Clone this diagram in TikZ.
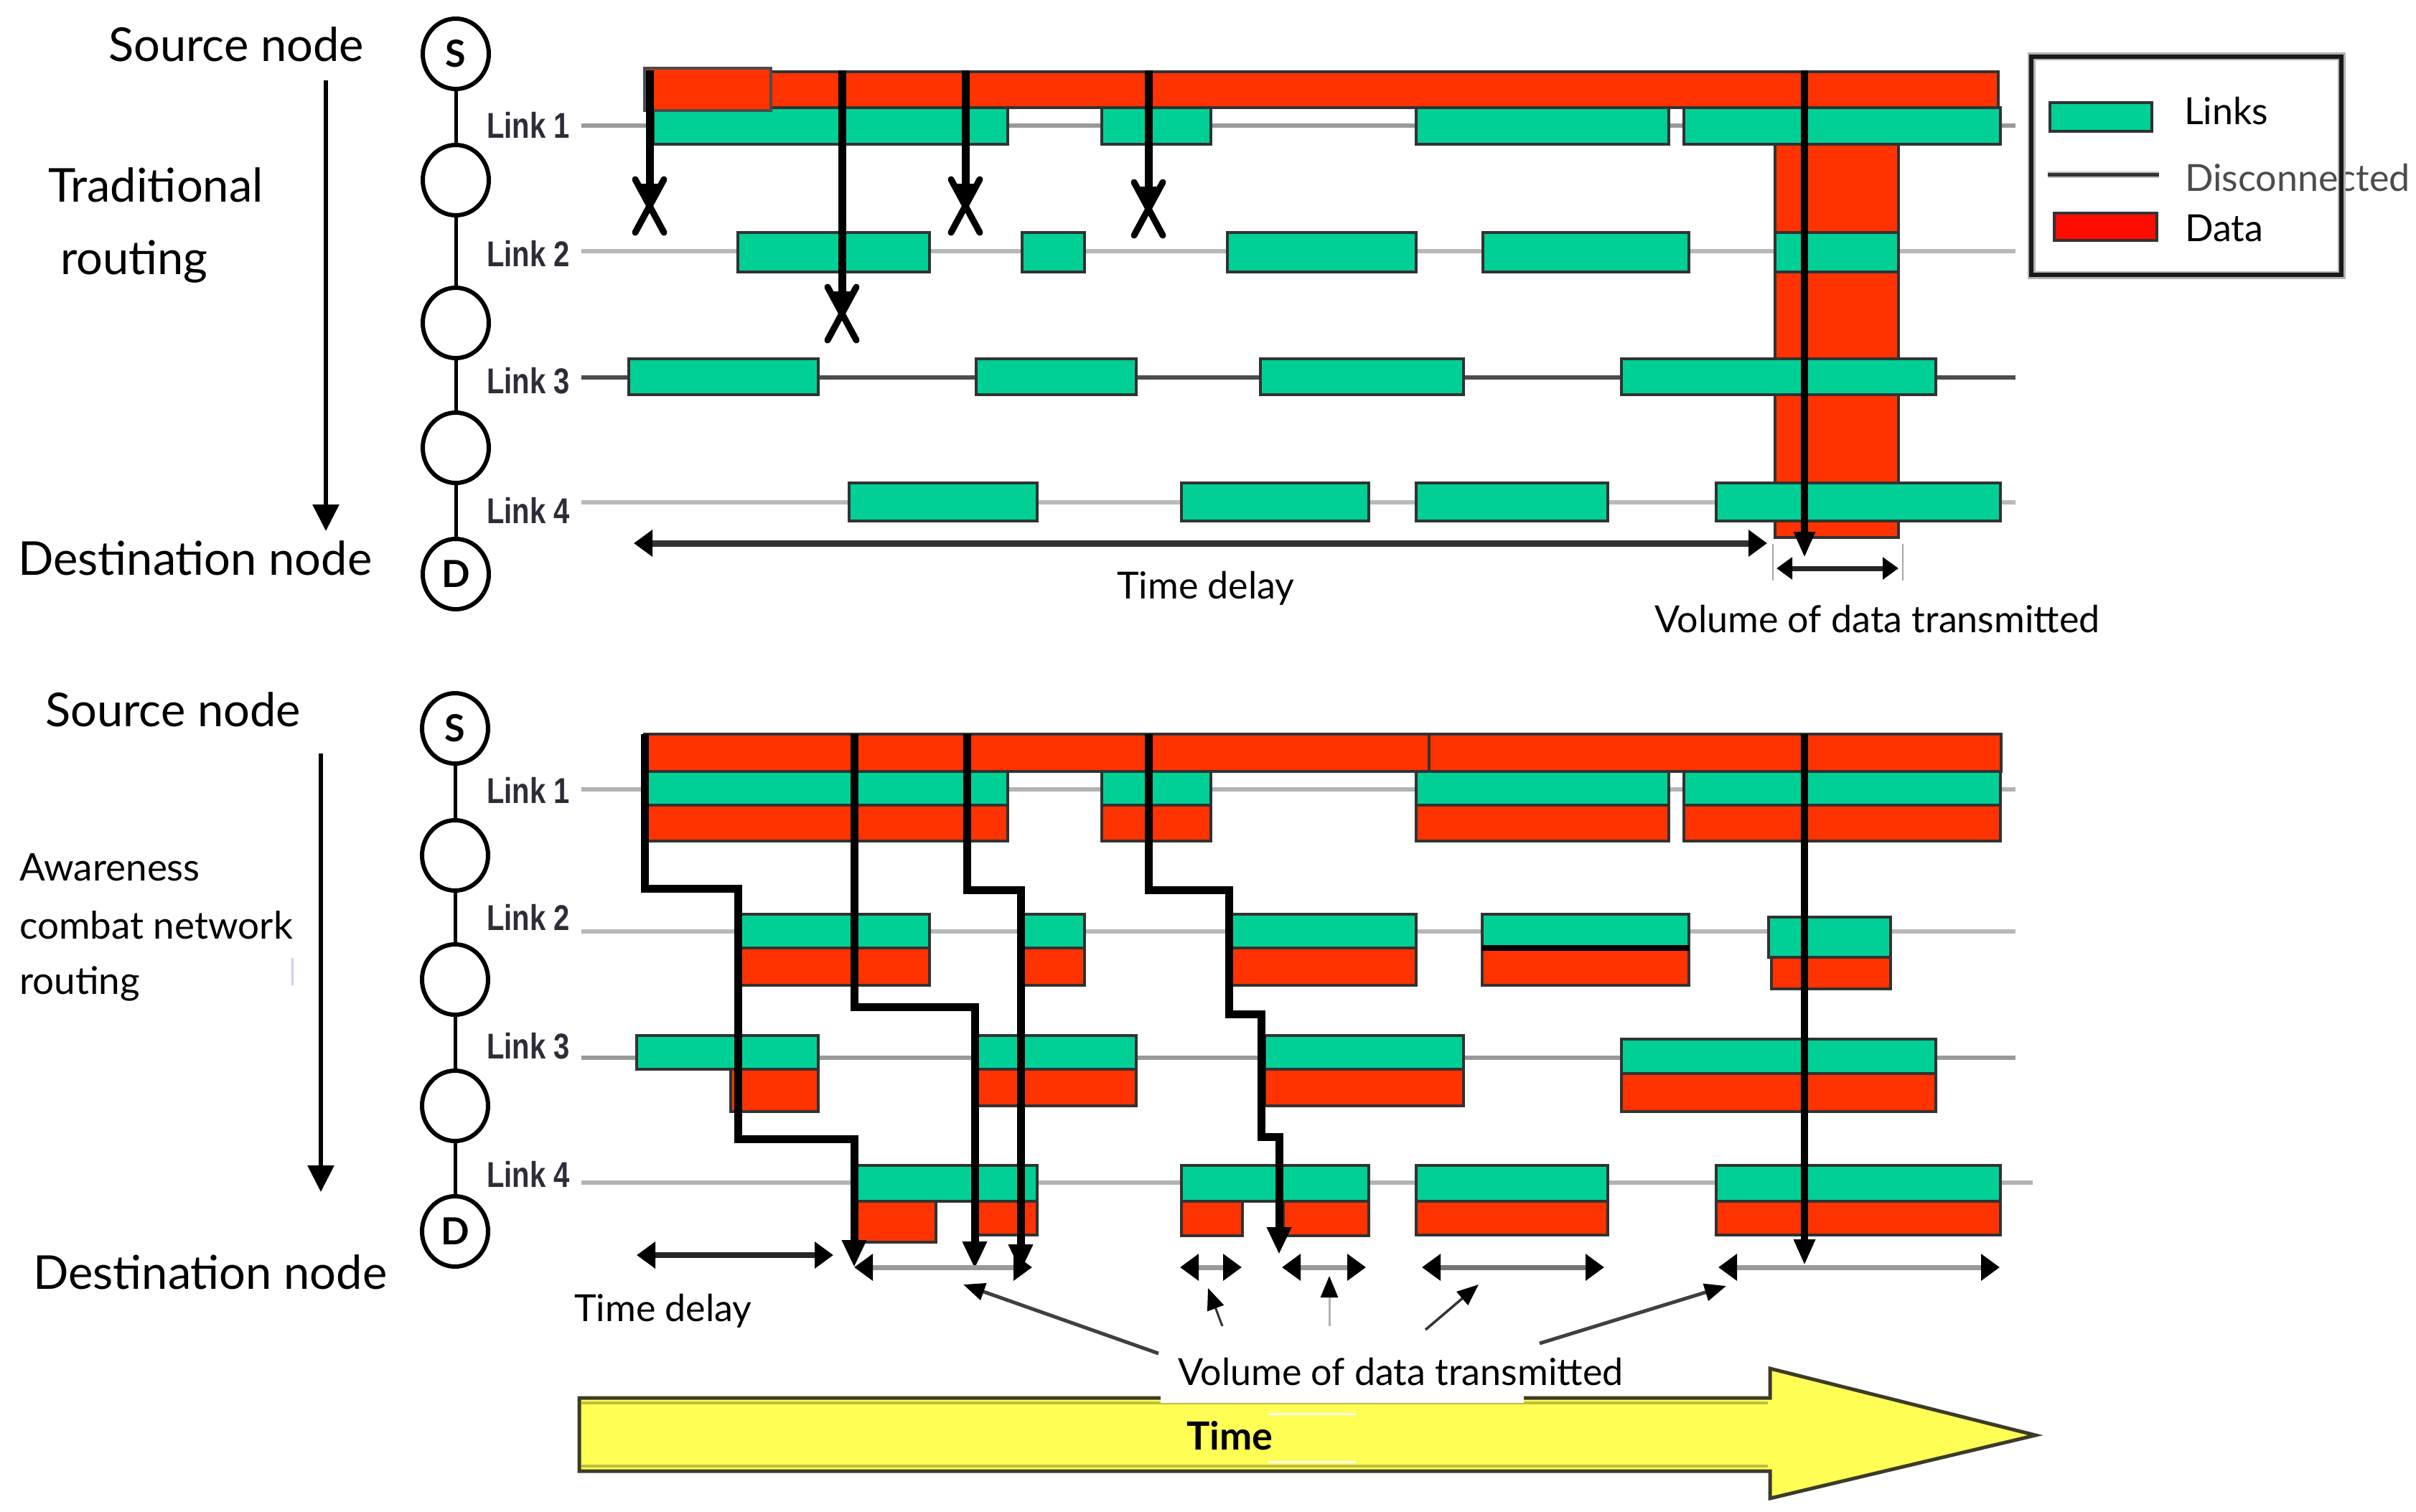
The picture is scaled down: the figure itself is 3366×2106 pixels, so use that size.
\documentclass[tikz,border=0pt]{standalone}
\usepackage{fontspec}
\setmainfont{Lato}
\newfontfamily\linkfont[FakeStretch=0.8]{Liberation Sans}
\usetikzlibrary{arrows.meta,shapes.geometric}
\definecolor{lgreen}{RGB}{0,208,150}
\definecolor{dgreen}{RGB}{0,130,95}
\definecolor{dred}{RGB}{255,51,0}
\definecolor{legred}{RGB}{255,12,0}
\definecolor{bordc}{RGB}{50,50,50}
\definecolor{tyellow}{RGB}{255,255,85}
\definecolor{linkc}{RGB}{45,45,58}
\definecolor{yborder}{RGB}{60,60,40}
\definecolor{yinner}{RGB}{190,190,60}
\begin{document}
\begin{tikzpicture}[x=1pt,y=-1pt,
  big/.style={font=\fontsize{65}{78}\selectfont, anchor=base west, inner sep=0pt},
  mid/.style={font=\fontsize{53}{62}\selectfont, anchor=base west, inner sep=0pt},
  small/.style={font=\fontsize{52}{62}\selectfont, anchor=base west, inner sep=0pt},
  linklbl/.style={font=\linkfont\bfseries\fontsize{50}{60}\selectfont, text=linkc, anchor=base west, inner sep=0pt},
  rnode/.style={ellipse, draw, line width=6pt, minimum width=92pt, minimum height=98pt, inner sep=0pt, font=\bfseries\fontsize{52}{60}\selectfont},
  chain/.style={line width=5pt},
  gbar/.style={fill=lgreen, draw=bordc, line width=4pt},
  rbar/.style={fill=dred, draw=bordc, line width=4pt},
  lline/.style={line width=6pt},
  route/.style={line width=11pt, line join=miter},
  tipbig/.style={-{Triangle[length=38pt,width=32pt]}},
  xm/.style={line width=9pt, line cap=round},
  dbl/.style={line width=8pt, draw=black!85, {Triangle[length=26pt,width=36pt,color=black]}-{Triangle[length=26pt,width=36pt,color=black]}},
  gdbl/.style={line width=7pt, draw=black!40, {Triangle[length=26pt,width=36pt,color=black]}-{Triangle[length=26pt,width=36pt,color=black]}},
  ptr/.style={-{Triangle[length=30pt,width=24pt,color=black]}},
  downarr/.style={line width=6pt, -{Triangle[length=37pt,width=36pt]}}
]
\useasboundingbox (0,0) rectangle (3366,2106);
\fill[white] (0,0) rectangle (3366,2106);

% ================= TOP PANEL =================
\node[big] (src1) at (151,86) {Source node};
\node[big] (trad1) at (67,281) {Traditional};
\node[big] (trad2) at (84,382) {routing};
\node[big] (dst1) at (25,801) {Destination node};
\coordinate (a1s) at (454,112); \coordinate (a1e) at (454,740);
\draw[downarr] (a1s) -- (a1e);

\node[rnode] (s1) at (635,75) {S};
\node[rnode] (n11) at (635,251) {};
\node[rnode] (n12) at (635,450) {};
\node[rnode] (n13) at (635,624) {};
\node[rnode] (d1) at (635,800) {D};
\draw[chain] (s1) -- (n11);
\draw[chain] (n11) -- (n12);
\draw[chain] (n12) -- (n13);
\draw[chain] (n13) -- (d1);

\node[linklbl] (l11) at (678,192) {Link 1};
\node[linklbl] (l12) at (678,371) {Link 2};
\node[linklbl] (l13) at (678,548) {Link 3};
\node[linklbl] (l14) at (678,729) {Link 4};

\draw[lline, draw=black!40] (810,175) -- (2808,175);
\draw[lline, draw=black!28] (810,350) -- (2808,350);
\draw[lline, draw=black!70] (810,526) -- (2808,526);
\draw[lline, draw=black!27] (810,700) -- (2808,700);

\draw[rbar] (2473,201) rectangle (2645,749);

\draw[gbar] (910,150) rectangle (1404,201);
\draw[gbar] (1535,150) rectangle (1687,201);
\draw[gbar] (1973,150) rectangle (2325,201);
\draw[gbar] (2346,150) rectangle (2787,201);

\draw[gbar] (1028,324) rectangle (1295,379);
\draw[gbar] (1424,324) rectangle (1511,379);
\draw[gbar] (1710,324) rectangle (1973,379);
\draw[gbar] (2066,324) rectangle (2353,379);
\draw[gbar] (2473,324) rectangle (2645,379);

\draw[gbar] (876,500) rectangle (1140,550);
\draw[gbar] (1360,500) rectangle (1583,550);
\draw[gbar] (1756,500) rectangle (2039,550);
\draw[gbar] (2259,500) rectangle (2697,550);

\draw[gbar] (1183,673) rectangle (1445,726);
\draw[gbar] (1646,673) rectangle (1907,726);
\draw[gbar] (1973,673) rectangle (2240,726);
\draw[gbar] (2391,673) rectangle (2787,726);

\draw[rbar] (898,100) rectangle (2784,150);
\draw[rbar, draw=black!70] (898,95) rectangle (1074,154);

% failed routes
\coordinate (t1s) at (905,98);  \coordinate (x1) at (905,286);
\coordinate (t2s) at (1173,98); \coordinate (x2) at (1173,436);
\coordinate (t3s) at (1345,98); \coordinate (x3) at (1345,286);
\coordinate (t4s) at (1600,98); \coordinate (x4) at (1600,290);
\foreach \s/\x in {t1s/x1,t2s/x2,t3s/x3,t4s/x4}{
  \draw[route, -{Triangle[length=30pt,width=30pt]}] (\s) -- (\x);
  \draw[xm] ([shift={(-20,-36)}]\x) -- ([shift={(20,38)}]\x);
  \draw[xm] ([shift={(20,-36)}]\x) -- ([shift={(-20,38)}]\x);
}
\coordinate (t5s) at (2514,98); \coordinate (t5e) at (2514,777);
\draw[route, line width=10pt, -{Triangle[length=36pt,width=28pt]}] (t5s) -- (t5e);

% time delay / volume (top)
\coordinate (td1a) at (883,757); \coordinate (td1b) at (2462,757);
\draw[dbl, line width=9pt, draw=black!80] (td1a) -- (td1b);
\node[small] (tdl1) at (1556,834) {Time delay};
\coordinate (tk1a) at (2470,758); \coordinate (tk1b) at (2470,809);
\coordinate (tk2a) at (2651,758); \coordinate (tk2b) at (2651,809);
\draw[line width=2.5pt, black!35] (tk1a) -- (tk1b);
\draw[line width=2.5pt, black!35] (tk2a) -- (tk2b);
\coordinate (vo1a) at (2475,792); \coordinate (vo1b) at (2645,792);
\draw[dbl, line width=7pt, {Triangle[length=22pt,width=30pt,color=black]}-{Triangle[length=22pt,width=30pt,color=black]}] (vo1a) -- (vo1b);
\node[small] (vol1) at (2305,881) {Volume of data transmitted};

% legend
\draw[gbar] (2856,143) rectangle (2998,183);
\node[small] (lg1) at (3043,173) {Links};
\coordinate (lgla) at (2853,243); \coordinate (lglb) at (3008,243);
\draw[line width=9pt, black!25] (lgla) -- (lglb);
\draw[line width=5pt, black!80] (lgla) -- (lglb);
\node[small, text=black!70] (lg2) at (3044,266) {Disconnected};
\draw[fill=legred, draw=bordc, line width=4pt] (2862,297) rectangle (3005,335);
\node[small] (lg3) at (3044,336) {Data};
\draw[line width=11pt, black!30] (2830,79) rectangle (3262,383);
\draw[line width=6pt, black!90] (2830,79) rectangle (3262,383);

% ================= BOTTOM PANEL =================
\node[big] (src2) at (63,1012) {Source node};
\node[mid] (aw1) at (27,1227) {Awareness};
\node[mid] (aw2) at (27,1308) {combat network};
\node[mid] (aw3) at (27,1385) {routing};
\node[big] (dst2) at (46,1796) {Destination node};
\coordinate (a2s) at (447,1050); \coordinate (a2e) at (447,1661);
\draw[downarr] (a2s) -- (a2e);
\coordinate (blA) at (407,1335); \coordinate (blB) at (407,1373);
\draw[line width=3pt, cyan!25!blue!20] (blA) -- (blB);

\node[rnode] (s2) at (634,1015) {S};
\node[rnode] (n21) at (634,1192) {};
\node[rnode] (n22) at (634,1365) {};
\node[rnode] (n23) at (634,1541) {};
\node[rnode] (d2) at (634,1716) {D};
\draw[chain] (s2) -- (n21);
\draw[chain] (n21) -- (n22);
\draw[chain] (n22) -- (n23);
\draw[chain] (n23) -- (d2);

\node[linklbl] (l21) at (678,1119) {Link 1};
\node[linklbl] (l22) at (678,1296) {Link 2};
\node[linklbl] (l23) at (678,1475) {Link 3};
\node[linklbl] (l24) at (678,1654) {Link 4};

\draw[lline, draw=black!30] (810,1100) -- (2808,1100);
\draw[lline, draw=black!28] (810,1298) -- (2808,1298);
\draw[lline, draw=black!40] (810,1474) -- (2808,1474);
\draw[lline, draw=black!30] (810,1648) -- (2832,1648);

% link 1
\draw[rbar] (898,1023) rectangle (1991,1075);
\draw[rbar] (1991,1023) rectangle (2788,1075);
\foreach \a/\b in {899/1404,1535/1687,1973/2325,2346/2787}{
  \draw[gbar] (\a,1075) rectangle (\b,1122);
  \draw[rbar] (\a,1122) rectangle (\b,1172);
}
% link 2
\foreach \a/\b in {1032/1295,1426/1511,1716/1973,2065/2353}{
  \draw[gbar] (\a,1274) rectangle (\b,1321);
  \draw[rbar] (\a,1321) rectangle (\b,1373);
}
\draw[line width=8pt] (2065,1321) -- (2353,1321);
\draw[gbar] (2464,1278) rectangle (2634,1334);
\draw[rbar] (2468,1334) rectangle (2634,1378);
% link 3
\draw[gbar] (887,1443) rectangle (1140,1490);
\draw[rbar] (1018,1490) rectangle (1140,1549);
\foreach \a/\b in {1361/1583,1762/2039}{
  \draw[gbar] (\a,1443) rectangle (\b,1490);
  \draw[rbar] (\a,1490) rectangle (\b,1541);
}
\draw[gbar] (2259,1448) rectangle (2697,1496);
\draw[rbar] (2259,1496) rectangle (2697,1549);
% link 4
\draw[gbar] (1192,1624) rectangle (1445,1674);
\draw[rbar] (1192,1674) rectangle (1304,1731);
\draw[rbar] (1360,1674) rectangle (1445,1721);
\draw[gbar] (1646,1624) rectangle (1907,1674);
\draw[rbar] (1646,1674) rectangle (1731,1722);
\draw[rbar] (1788,1674) rectangle (1907,1722);
\foreach \a/\b in {1973/2240,2391/2787}{
  \draw[gbar] (\a,1624) rectangle (\b,1674);
  \draw[rbar] (\a,1674) rectangle (\b,1721);
}

% routes
\coordinate (pa0) at (898,1023);  \coordinate (pa1) at (1190,1766);
\coordinate (pb0) at (1190,1023); \coordinate (pb1) at (1358,1768);
\coordinate (pc0) at (1347,1023); \coordinate (pc1) at (1422,1772);
\coordinate (pd0) at (1600,1023); \coordinate (pd1) at (1782,1748);
\coordinate (pe0) at (2514,1023); \coordinate (pe1) at (2514,1763);
\draw[route, tipbig] (pa0) -- (898,1238) -- (1028,1238) -- (1028,1587) -- (1190,1587) -- (pa1);
\draw[route, tipbig] (pb0) -- (1190,1403) -- (1358,1403) -- (pb1);
\draw[route, tipbig] (pc0) -- (1347,1240) -- (1422,1240) -- (pc1);
\draw[route, tipbig] (pd0) -- (1600,1240) -- (1712,1240) -- (1712,1413) -- (1757,1413) -- (1757,1584) -- (1782,1584) -- (pd1);
\draw[route, line width=10pt, -{Triangle[length=36pt,width=28pt]}] (pe0) -- (pe1);

% measures
\coordinate (td2a) at (887,1749); \coordinate (td2b) at (1161,1749);
\draw[dbl] (td2a) -- (td2b);
\node[small] (tdl2) at (800,1841) {Time delay};
\coordinate (g1a) at (1190,1766); \coordinate (g1b) at (1438,1766);
\coordinate (g2a) at (1644,1766); \coordinate (g2b) at (1730,1766);
\coordinate (g3a) at (1786,1766); \coordinate (g3b) at (1903,1766);
\coordinate (g4a) at (1981,1766); \coordinate (g4b) at (2235,1766);
\coordinate (g5a) at (2394,1766); \coordinate (g5b) at (2786,1766);
\draw[gdbl] (g1a) -- (g1b);
\draw[gdbl] (g2a) -- (g2b);
\draw[gdbl] (g3a) -- (g3b);
\draw[gdbl, draw=black!55] (g4a) -- (g4b);
\draw[gdbl] (g5a) -- (g5b);

% time arrow
\coordinate (ta0) at (807,1948);
\draw[fill=tyellow, draw=yborder, line width=5pt, line join=miter]
  (ta0) -- (2466,1948) -- (2466,1907) -- (2836,2000) -- (2466,2088) -- (2466,2050) -- (807,2050) -- cycle;
\draw[yinner, line width=4pt] (810,1955) -- (2463,1955);
\draw[yinner, line width=4pt] (810,2043) -- (2463,2043);
\fill[white] (1617,1878) rectangle (2123,1955);
\draw[line width=3pt, white] (1767,1970) -- (1889,1970);
\draw[line width=3pt, white] (1767,2037) -- (1889,2037);
\node[font=\bfseries\fontsize{54}{64}\selectfont, anchor=base west, inner sep=0pt] (timel) at (1653,2020) {Time};

% pointers
\node[small] (vol2) at (1641,1930) {Volume of data transmitted};
\coordinate (q1a) at (1614,1886); \coordinate (q1b) at (1342,1790);
\coordinate (q2a) at (1703,1848); \coordinate (q2b) at (1683,1795);
\coordinate (q3a) at (1852,1848); \coordinate (q3b) at (1852,1778);
\coordinate (q4a) at (1986,1853); \coordinate (q4b) at (2060,1790);
\coordinate (q5a) at (2145,1872); \coordinate (q5b) at (2405,1792);
\draw[ptr, line width=5pt, black!75] (q1a) -- (q1b);
\draw[ptr, line width=3pt, black!80] (q2a) -- (q2b);
\draw[ptr, line width=3pt, black!30] (q3a) -- (q3b);
\draw[ptr, line width=3.5pt, black!80] (q4a) -- (q4b);
\draw[ptr, line width=5pt, black!75] (q5a) -- (q5b);
\end{tikzpicture}
\end{document}
